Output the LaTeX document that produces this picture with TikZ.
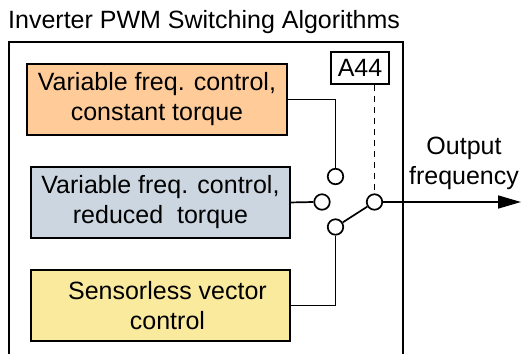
\documentclass[tikz,border=0pt]{standalone}
\usepackage{fontspec}
\setmainfont{Liberation Sans}
\usetikzlibrary{arrows.meta}
\definecolor{orangefill}{HTML}{FFCC99}
\definecolor{bluefill}{HTML}{CCD6E0}
\definecolor{yellowfill}{HTML}{FAEA9E}
\begin{document}
\begin{tikzpicture}[x=1pt,y=-1pt,
  txt/.style={font=\fontsize{25}{30}\selectfont},
  algobox/.style={draw,line width=1.9pt,txt,align=center,minimum width=260pt,minimum height=71pt,inner sep=0pt,anchor=north west},
  contact/.style={circle,draw,fill=white,line width=1.7pt,minimum size=15.5pt,inner sep=0pt},
  wire/.style={line width=1.7pt}]
\useasboundingbox (0,0) rectangle (521,354);
\node[txt,anchor=base west,inner sep=0pt] (title) at (8,28) {Inverter PWM Switching Algorithms};
\draw[line width=1.8pt] (9,354) -- (9,42) -- (403,42) -- (403,354);
\node[algobox,fill=orangefill] (oc) at (26,63) {Variable freq. control,\\constant torque};
\node[algobox,fill=bluefill,minimum width=259pt] (vb) at (30,166) {Variable freq. control,\\reduced\ \ torque};
\node[algobox,fill=yellowfill,minimum width=259pt] (sv) at (30,269) {\hspace*{14pt}Sensorless vector\\\hspace*{14pt}control};
\node[draw,line width=1.7pt,txt,minimum width=58pt,minimum height=32pt,inner sep=0pt] (a44) at (360,68) {A44};
\node[contact] (ctop) at (335.5,176.5) {};
\node[contact] (cleft) at (322,202) {};
\node[contact] (cbot) at (335.5,227) {};
\node[contact] (cright) at (374.5,202) {};
\coordinate (outend) at (521,202);
\draw[wire] (oc.east) -| (ctop.north);
\draw[wire] (vb.east) -- (cleft.west);
\draw[wire] (sv.east) -| (cbot.south);
\draw[wire] (cbot) -- (cright);
\draw[wire,dash pattern=on 6pt off 5pt] (cright |- a44.south) -- (cright.north);
\draw[wire,-{Triangle[length=23pt,width=13pt]}] (cright.east) -- (outend);
\node[txt,align=center,inner sep=0pt] (outlbl) at (464,163.5) {Output\\frequency};
\end{tikzpicture}
\end{document}
